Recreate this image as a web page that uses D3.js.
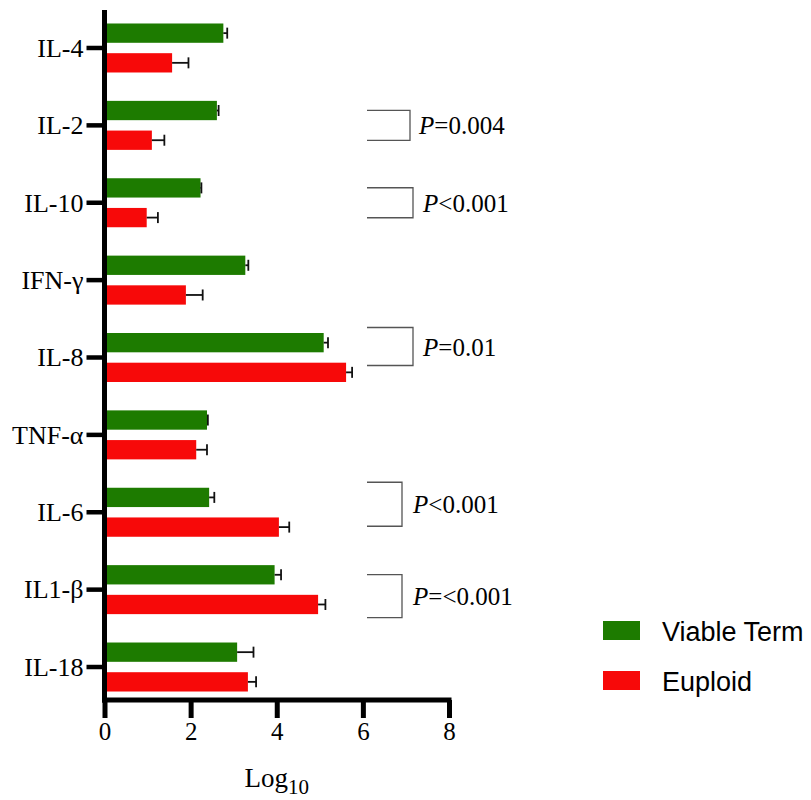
<!DOCTYPE html>
<html><head><meta charset="utf-8">
<script src="https://cdn.jsdelivr.net/npm/d3@7"></script>
<style>body{margin:0;background:#fff}</style>
</head><body>
<svg id="chart" width="811" height="800"></svg>
<script>
const categories = ["IL-4","IL-2","IL-10","IFN-γ","IL-8","TNF-α","IL-6","IL1-β","IL-18"];
const seriesNames = ["Viable Term","Euploid"];
const viableTerm   = [2.76, 2.61, 2.23, 3.27, 5.09, 2.38, 2.43, 3.95, 3.08];
const viableTermErr= [0.09, 0.04, 0.02, 0.07, 0.10, 0.02, 0.12, 0.15, 0.38];
const euploid      = [1.57, 1.10, 0.98, 1.89, 5.61, 2.13, 4.05, 4.96, 3.33];
const euploidErr   = [0.38, 0.29, 0.26, 0.39, 0.14, 0.25, 0.24, 0.17, 0.19];
const xTicks = [0, 2, 4, 6, 8];
const pCategories = ["IL-2","IL-10","IL-8","IL-6","IL1-β"];
const pLabels = ["=0.004","<0.001","=0.01","<0.001","=<0.001"];

// layout for brackets (pixel offsets relative to category centre)
const bracketLayout = [
  {top:-15, bottom:15, right:410, textX:419},
  {top:-15, bottom:15, right:413, textX:423},
  {top:-30, bottom:8,  right:413, textX:423},
  {top:-30, bottom:14, right:402, textX:413},
  {top:-15, bottom:28, right:402, textX:413}
];
const colors = {"Viable Term":"#1d7b00","Euploid":"#f70909"};

const svg = d3.select("#chart");
const x = d3.scaleLinear().domain([0, 8]).range([104.5, 449]);
const y = d3.scaleBand().domain(categories).range([9.3, 705.7]);
const inner = d3.scaleBand().domain(seriesNames).range([-24.5, 24.5]).paddingInner(0.35);
const axisY = 700;

const rows = categories.map((c, i) => ({
  cat: c,
  vals: [
    {s: "Viable Term", v: viableTerm[i], e: viableTermErr[i]},
    {s: "Euploid", v: euploid[i], e: euploidErr[i]}
  ]
}));
const center = c => y(c) + y.bandwidth() / 2;

// bars
const g = svg.append("g");
rows.forEach(r => {
  r.vals.forEach(d => {
    const yy = center(r.cat) + inner(d.s);
    g.append("rect")
      .attr("x", x(0)).attr("y", yy)
      .attr("width", x(d.v) - x(0)).attr("height", inner.bandwidth())
      .attr("fill", colors[d.s]);
    const ym = yy + inner.bandwidth() / 2;
    g.append("line").attr("x1", x(d.v)).attr("x2", x(d.v + d.e))
      .attr("y1", ym).attr("y2", ym).attr("stroke", "#111").attr("stroke-width", 1.8);
    g.append("line").attr("x1", x(d.v + d.e)).attr("x2", x(d.v + d.e))
      .attr("y1", ym - 5.5).attr("y2", ym + 5.5).attr("stroke", "#111").attr("stroke-width", 1.8);
  });
});

// y axis
const yAxis = d3.axisLeft(y).tickSize(18).tickSizeOuter(0).tickPadding(3);
const gy = svg.append("g").attr("transform", `translate(${x(0)},0)`).call(yAxis);
gy.select(".domain").remove();
gy.selectAll(".tick line").attr("stroke", "#000").attr("stroke-width", 4.5);
gy.selectAll(".tick text").attr("font-family", "'Liberation Serif','Times New Roman',serif")
  .attr("font-size", 26).attr("fill", "#000").attr("dy", "0.34em");

// x axis
const xAxis = d3.axisBottom(x).tickValues(xTicks).tickSize(18).tickSizeOuter(0).tickPadding(4);
const gx = svg.append("g").attr("transform", `translate(0,${axisY})`).call(xAxis);
gx.select(".domain").remove();
gx.selectAll(".tick line").attr("stroke", "#000").attr("stroke-width", 5);
gx.selectAll(".tick text").attr("font-family", "'Liberation Serif','Times New Roman',serif")
  .attr("font-size", 25).attr("fill", "#000");

svg.append("line").attr("x1", x(0) - 2.5).attr("x2", x(8) + 2.5)
  .attr("y1", axisY).attr("y2", axisY).attr("stroke", "#000").attr("stroke-width", 5);
svg.append("line").attr("x1", x(0)).attr("x2", x(0))
  .attr("y1", 10).attr("y2", axisY + 2.5).attr("stroke", "#000").attr("stroke-width", 5);

// x axis title
const title = svg.append("text").attr("x", (x(0) + x(8)) / 2).attr("y", 787)
  .attr("text-anchor", "middle").attr("font-family", "'Liberation Serif','Times New Roman',serif")
  .attr("font-size", 27).attr("fill", "#000");
title.append("tspan").text("Log");
title.append("tspan").attr("font-size", 21).attr("dy", 7).text("10");

// brackets with p values
pCategories.forEach((c, i) => {
  const L = bracketLayout[i];
  const cy = center(c);
  const left = 367;
  svg.append("path")
    .attr("d", `M${left},${cy + L.top}H${L.right}V${cy + L.bottom}H${left}`)
    .attr("fill", "none").attr("stroke", "#555").attr("stroke-width", 1.3);
  const t = svg.append("text").attr("x", L.textX).attr("y", cy + (L.top + L.bottom) / 2 + 9)
    .attr("font-family", "'Liberation Serif','Times New Roman',serif")
    .attr("font-size", 25).attr("fill", "#000");
  t.append("tspan").attr("font-style", "italic").text("P");
  t.append("tspan").text(pLabels[i]);
});

// legend
const legend = svg.append("g");
seriesNames.forEach((s, i) => {
  const ly = 621 + i * 50;
  legend.append("rect").attr("x", 603).attr("y", ly).attr("width", 37).attr("height", 19)
    .attr("fill", colors[s]);
  legend.append("text").attr("x", 662).attr("y", ly + 20)
    .attr("font-family", "'Liberation Sans',Arial,sans-serif").attr("font-size", 27)
    .attr("fill", "#000").text(s);
});
</script>
</body></html>
